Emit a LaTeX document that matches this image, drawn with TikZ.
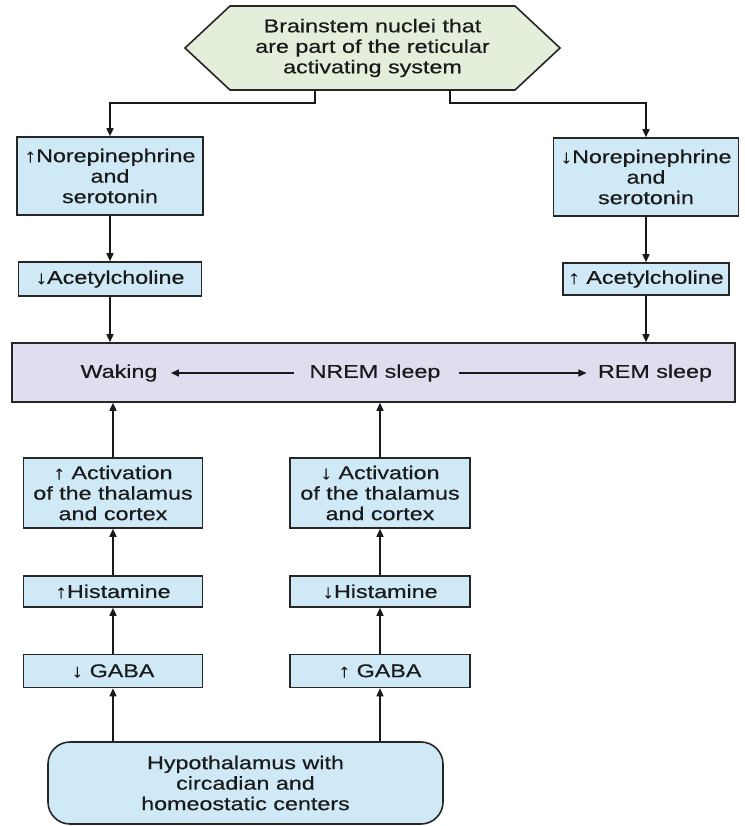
\documentclass[tikz,border=0pt]{standalone}
\usepackage{fontspec}
\setmainfont[FakeStretch=1.26,FakeBold=0.5]{Liberation Sans}
\usetikzlibrary{arrows.meta}
\definecolor{boxblue}{HTML}{CFE9F7}
\definecolor{hexgreen}{HTML}{E3EFDA}
\definecolor{lav}{HTML}{E1DCEE}
\definecolor{edge}{HTML}{262626}
\definecolor{ink}{HTML}{1A1A1A}
\begin{document}
\begin{tikzpicture}[x=1pt,y=-1pt,
  font=\fontsize{18.5}{20.5}\selectfont,
  bbox/.style={draw=edge,line width=1.6pt,fill=boxblue,align=center,inner sep=0pt,text=ink},
  arr/.style={line width=1.5pt,draw=black!90,-{Triangle[length=8pt,width=7pt]}}]
\useasboundingbox[fill=white] (0,0) rectangle (744,826);

% top hexagon
\draw[draw=edge,line width=1.6pt,fill=hexgreen,line join=miter]
  (185,48) -- (230,6) -- (515,6) -- (560,48) -- (515,90) -- (230,90) -- cycle;
\node[minimum width=375pt,minimum height=84pt,inner sep=0pt,align=center,text=ink] (hex) at (372.5,48)
  {Brainstem nuclei that\\are part of the reticular\\activating system};

% upper boxes
\node[bbox,minimum width=186pt,minimum height=78pt] (ne1) at (110,176) {↑Norepinephrine\\and\\serotonin};
\node[bbox,minimum width=183pt,minimum height=34pt] (ach1) at (110,279) {↓Acetylcholine};
\node[bbox,minimum width=185pt,minimum height=78pt] (ne2) at (646,177) {↓Norepinephrine\\and\\serotonin};
\node[bbox,minimum width=166pt,minimum height=32pt] (ach2) at (646,279) {↑ Acetylcholine};

% purple state box
\node[draw=edge,line width=1.6pt,fill=lav,minimum width=723pt,minimum height=59pt,inner sep=0pt] (state) at (373.5,372.5) {};
\node[text=ink] (waking) at (119,373) {Waking};
\node[text=ink] (nrem) at (375,373) {NREM sleep};
\node[text=ink] (rem) at (655,373) {REM sleep};

% lower boxes
\node[bbox,minimum width=179pt,minimum height=70pt] (act1) at (113,493) {↑ Activation\\of the thalamus\\and cortex};
\node[bbox,minimum width=180pt,minimum height=70pt] (act2) at (380,493) {↓ Activation\\of the thalamus\\and cortex};
\node[bbox,minimum width=179pt,minimum height=31pt] (his1) at (113,591.5) {↑Histamine};
\node[bbox,minimum width=180pt,minimum height=31pt] (his2) at (380,591.5) {↓Histamine};
\node[bbox,minimum width=179pt,minimum height=33pt] (gaba1) at (113,671) {↓ GABA};
\node[bbox,minimum width=180pt,minimum height=33pt] (gaba2) at (380,671) {↑ GABA};
\node[bbox,rounded corners=22pt,minimum width=395pt,minimum height=82pt] (hypo) at (245.5,783)
  {Hypothalamus with\\circadian and\\homeostatic centers};

% connectors from hexagon
\coordinate (jl) at (315,103);
\coordinate (jr) at (450,103);
\draw[arr] (hex.south -| jl) -- (jl) -| (ne1.north);
\draw[arr] (hex.south -| jr) -- (jr) -| (ne2.north);

\draw[arr] (ne1.south) -- (ach1.north);
\draw[arr] (ne2.south) -- (ach2.north);
\draw[arr] (ach1.south) -- (ach1.south |- state.north);
\draw[arr] (ach2.south) -- (ach2.south |- state.north);

% within state box
\draw[arr,shorten <=12pt,shorten >=10pt] (nrem.west) -- (waking.east);
\draw[arr,shorten <=15pt,shorten >=8pt] (nrem.east) -- (rem.west);

% lower column arrows
\draw[arr] (act1.north) -- (act1.north |- state.south);
\draw[arr] (act2.north) -- (act2.north |- state.south);
\draw[arr] (his1.north) -- (act1.south);
\draw[arr] (his2.north) -- (act2.south);
\draw[arr] (gaba1.north) -- (his1.south);
\draw[arr] (gaba2.north) -- (his2.south);
\draw[arr] (gaba1.south |- hypo.north) -- (gaba1.south);
\draw[arr] (gaba2.south |- hypo.north) -- (gaba2.south);
\end{tikzpicture}
\end{document}
